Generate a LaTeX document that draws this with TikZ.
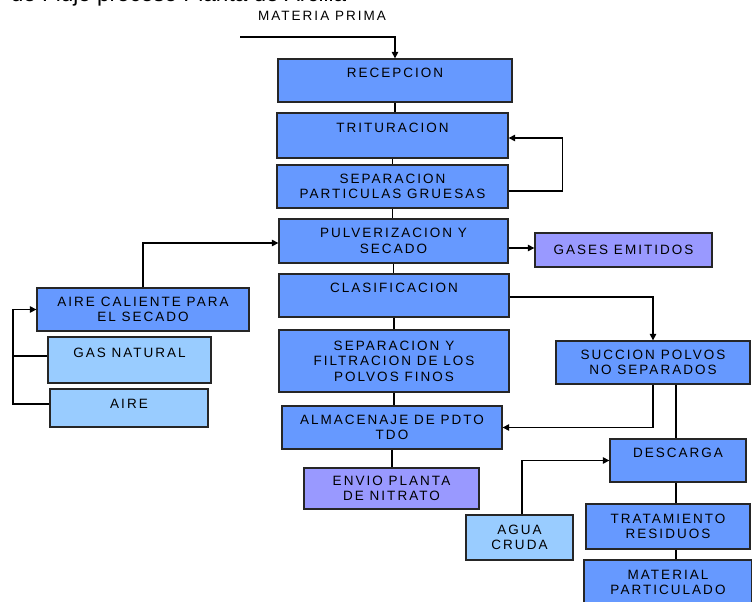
\documentclass[tikz,border=0pt]{standalone}
\usepackage{fontspec}
\setmainfont{Liberation Sans}[LetterSpace=15]
\newfontfamily\titlefont{Liberation Sans}
\usetikzlibrary{arrows.meta}
\definecolor{procblue}{HTML}{6699FF}
\definecolor{inblue}{HTML}{99CCFF}
\definecolor{outviolet}{HTML}{9999FF}
\tikzset{
  lbl/.style={font=\fontsize{13.5}{15.5}\selectfont},
  box/.style={lbl, draw=black!85, line width=1.3pt, fill=procblue, align=center, inner sep=0pt},
  inbox/.style={box, fill=inblue},
  outbox/.style={box, fill=outviolet},
  lift/.style={text depth=#1},
  arr/.style={-{Triangle[length=6.5pt,width=6.5pt]}},
  link/.style={line width=1.2pt}
}
\begin{document}
\begin{tikzpicture}[x=1pt,y=-1pt,link]
\useasboundingbox (0,0) rectangle (752,602);
\clip (0,0) rectangle (752,602);

% title (cut at the top)
\node[anchor=base west, font=\titlefont\fontsize{22.5}{22.5}\selectfont] (title) at (7,1.5) {de Flujo proceso Planta de Arcilla};
\node[lbl] (mp) at (322,16) {MATERIA PRIMA};
\coordinate (mpin) at (240,37);

% main column
\node[box, minimum width=234, minimum height=43, lift=15pt] at (395,80.5) (recep) {RECEPCION};
\node[box, minimum width=231, minimum height=45, lift=15pt] at (392.5,135.5) (tritur) {TRITURACION};
\node[box, minimum width=231, minimum height=43] at (392.5,186.5) (sepgru) {SEPARACION\\PARTICULAS GRUESAS};
\node[box, minimum width=229, minimum height=44] at (393.5,241) (pulver) {PULVERIZACION Y\\SECADO};
\node[box, minimum width=230, minimum height=43, lift=15pt] at (394,295.5) (clasif) {CLASIFICACION};
\node[box, minimum width=230, minimum height=62] at (394,361) (sepfil) {SEPARACION Y\\FILTRACION DE LOS\\POLVOS FINOS};
\node[box, minimum width=220, minimum height=43] at (392,427.5) (almac) {ALMACENAJE DE PDTO\\TDO};
\node[outbox, minimum width=175, minimum height=41] at (391.5,488.5) (envio) {ENVIO PLANTA\\DE NITRATO};

% gases
\node[outbox, minimum width=177, minimum height=34] at (623.5,250) (gases) {GASES EMITIDOS};

% hot air
\node[box, minimum width=212, minimum height=43] at (143,309.5) (airecal) {AIRE CALIENTE PARA\\EL SECADO};
\node[inbox, minimum width=163, minimum height=46, lift=15pt] at (129.5,360) (gasnat) {GAS NATURAL};
\node[inbox, minimum width=158, minimum height=38, lift=8pt] at (129,408) (aire) {AIRE};
\coordinate (feed) at (13,0);

% dust line
\node[box, minimum width=194, minimum height=43] at (653,362.5) (succion) {SUCCION POLVOS\\NO SEPARADOS};
\node[box, minimum width=136, minimum height=43, lift=15pt] at (678,460.5) (descarga) {DESCARGA};
\node[inbox, minimum width=107, minimum height=45] at (519.5,537.5) (agua) {AGUA\\CRUDA};
\node[box, minimum width=164, minimum height=45] at (668,526.5) (tratam) {TRATAMIENTO\\RESIDUOS};
\node[box, minimum width=168, minimum height=45] at (668,582.5) (material) {MATERIAL\\PARTICULADO};

% connectors
\draw[arr] (mpin) -| (recep.north);
\foreach \a/\b in {recep/tritur, tritur/sepgru, sepgru/pulver, pulver/clasif, clasif/sepfil, sepfil/almac, almac/envio}
  \draw (\a.south) -- (\a.south |- \b.north);
\draw[arr] ([yshift=-4.5]sepgru.east) -- ++(54,0) |- ([yshift=-2.5]tritur.east);
\draw[arr] ([yshift=-7]pulver.east) -- ([yshift=-7]pulver.east -| gases.west);
\draw[arr] ([yshift=-1.5]clasif.east) -| (succion.north);
\draw[arr] (succion.south) |- (almac.east);
\draw ([xshift=23]succion.south) -- ([xshift=23]succion.south |- descarga.north);
\draw[arr] ([xshift=2.5]agua.north) |- (descarga.west);
\draw ([xshift=-2]descarga.south) -- ([xshift=-2]descarga.south |- tratam.north);
\draw ([xshift=8]tratam.south) -- ([xshift=8]tratam.south |- material.north);
\draw[arr] (airecal.north) |- ([yshift=-2]pulver.west);
\draw ([yshift=4]gasnat.west) -- ([yshift=4]gasnat.west -| feed);
\draw[arr] ([yshift=4]aire.west) -| (feed |- airecal.west) -- (airecal.west);
\end{tikzpicture}
\end{document}
